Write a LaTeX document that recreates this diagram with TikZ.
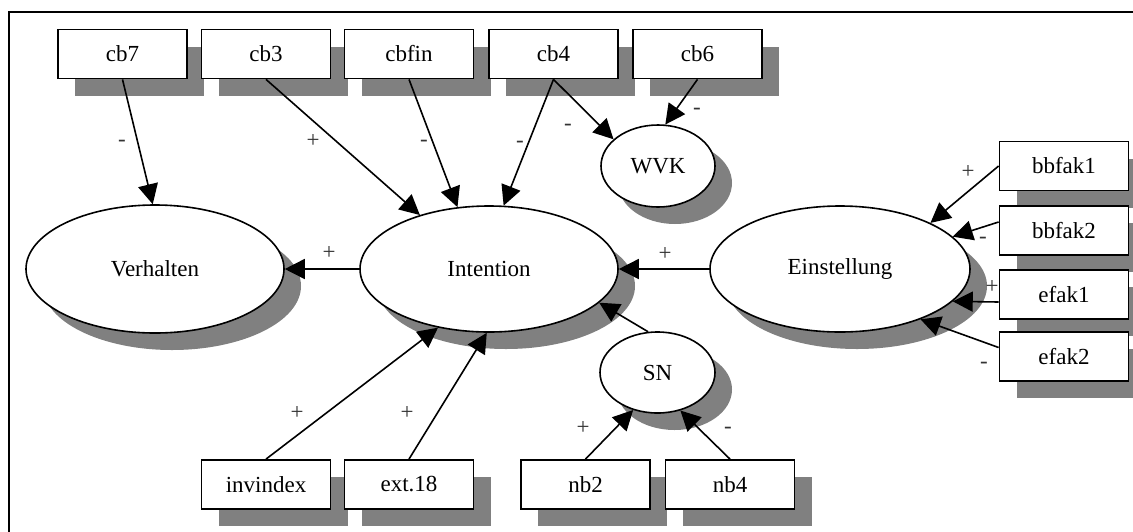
\documentclass[tikz,border=0pt]{standalone}
\usepackage{fontspec}
\setmainfont{Liberation Serif}
\usetikzlibrary{shapes.geometric,shadows,arrows.meta,calc}
\definecolor{shd}{RGB}{128,128,128}
\begin{document}
\begin{tikzpicture}[x=1pt,y=-1pt,
  shd/.style={drop shadow={shadow xshift=17pt,shadow yshift=-17pt,fill=shd,opacity=1}},
  box/.style={rectangle,draw,line width=1.8pt,fill=white,minimum width=129pt,minimum height=49pt,inner sep=0pt,font=\fontsize{23}{27}\selectfont,shd},
  lat/.style={ellipse,draw,line width=1.6pt,fill=white,inner sep=0pt,font=\fontsize{23}{27}\selectfont,shd},
  conn/.style={line width=1.6pt,-{Triangle[length=20pt,width=20pt]}},
  lbl/.style={font=\fontsize{23}{27}\selectfont,text=black!80,inner sep=0pt}]
\useasboundingbox (0,0) rectangle (1133,531);
\draw[line width=2.4pt] (8.7,560) -- (8.7,12) -- (1160,12);
% top row
\node[box] (cb7) at (122.5,54) {cb7};
\node[box] (cb3) at (266,54) {cb3};
\node[box] (cbfin) at (409,54) {cbfin};
\node[box] (cb4) at (553.5,54) {cb4};
\node[box] (cb6) at (697.5,54) {cb6};
% latent
\node[lat,minimum width=114pt,minimum height=82pt] (wvk) at (658,166) {WVK};
\node[lat,minimum width=258pt,minimum height=128pt] (verh) at (155,269) {Verhalten};
\node[lat,minimum width=258pt,minimum height=126pt] (int) at (489,269) {Intention};
\node[lat,minimum width=260pt,minimum height=126pt] (einst) at (840,269) {Einstellung};
% right column
\node[box] (bb1) at (1064,166) {bbfak1};
\node[box] (bb2) at (1064,230.5) {bbfak2};
\node[box] (ef1) at (1064,294.5) {efak1};
\node[box] (ef2) at (1064,356.5) {efak2};
\node[lat,minimum width=115pt,minimum height=81pt] (sn) at (657.5,372.5) {SN};
% bottom row
\node[box] (inv) at (266,484.5) {invindex};
\node[box] (ext) at (409,484.5) {ext.18};
\node[box] (nb2) at (585.5,484.5) {nb2};
\node[box] (nb4) at (730,484.5) {nb4};
% connectors
\draw[conn] (cb7.south) -- (verh.92);
\draw[conn] (cb3.south) -- (int.142);
\draw[conn] (cbfin.south) -- (int.117);
\draw[conn] (cb4.south) -- (int.77);
\draw[conn] (cb4.south) -- (wvk.149);
\draw[conn] (cb6.south) -- (wvk.80);
\draw[conn] (int.west) -- (verh.east);
\draw[conn] (einst.west) -- (int.east);
\draw[conn] (bb1.west) -- (einst.27);
\draw[conn] ($(bb2.west)+(0,-8.5)$) -- (einst.16);
\draw[conn] ($(ef1.west)+(0,7.5)$) -- (einst.-16);
\draw[conn] ($(ef2.west)+(0,-9)$) -- (einst.-32);
\draw[conn] (sn.103) -- (int.-17);
\draw[conn] (inv.north) -- (int.229);
\draw[conn] (ext.north) -- (int.268);
\draw[conn] (nb2.north) -- (sn.-123);
\draw[conn] (nb4.north) -- (sn.-59);
% labels
\node[lbl] (l1) at (122,143) {-};
\node[lbl] (l2) at (313,141) {+};
\node[lbl] (l3) at (424,143) {-};
\node[lbl] (l4) at (520,144) {-};
\node[lbl] (l5) at (568,127) {-};
\node[lbl] (l6) at (697,111) {-};
\node[lbl] (l7) at (329,253) {+};
\node[lbl] (l8) at (665,254) {+};
\node[lbl] (l9) at (968,172) {+};
\node[lbl] (l10) at (983,240) {-};
\node[lbl] (l11) at (992,287) {+};
\node[lbl] (l12) at (984,365) {-};
\node[lbl] (l14) at (297,413) {+};
\node[lbl] (l15) at (407,413) {+};
\node[lbl] (l16) at (583,428) {+};
\node[lbl] (l17) at (728,430) {-};
\end{tikzpicture}
\end{document}
